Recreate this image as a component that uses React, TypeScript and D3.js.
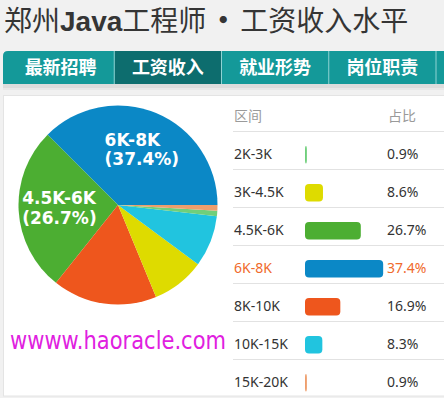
import React, { useEffect } from 'react';
import * as d3 from 'd3';

const categories = ['2K-3K', '3K-4.5K', '4.5K-6K', '6K-8K', '8K-10K', '10K-15K', '15K-20K'];
const shares = [0.9, 8.6, 26.7, 37.4, 16.9, 8.3, 0.9];
const colors = ['#6fcf7b', '#dedb00', '#4cae32', '#0b88c6', '#ee561d', '#21c4df', '#ee9e6c'];
const pieOrder = ['6K-8K', '4.5K-6K', '8K-10K', '3K-4.5K', '10K-15K', '2K-3K', '15K-20K'];
const highlight = '6K-8K';
const tabs = ['最新招聘', '工资收入', '就业形势', '岗位职责'];
const activeTab = '工资收入';
const tableHeaders = ['区间', '占比'];
const watermark = 'wwww.haoracle.com';

const W = 444;
const H = 398;
const CJK = '"Noto Sans CJK SC", "Noto Sans", sans-serif';
const LABEL_FONT = 'bold 17px "DejaVu Sans"';

function measure(text: string, font: string): number {
  try {
    const c = document.createElement('canvas');
    const ctx = c.getContext('2d');
    if (!ctx) return text.length * 9;
    ctx.font = font;
    return ctx.measureText(text).width;
  } catch (e) {
    return text.length * 9;
  }
}

export default function App() {
  useEffect(() => {
    document.body.style.margin = '0';
  }, []);

  // pie
  const cx = 118;
  const cy = 205;
  const r = 99.5;
  const pieData = pieOrder.map((c) => {
    const i = categories.indexOf(c);
    return { cat: c, value: shares[i], color: colors[i] };
  });
  const pie = d3
    .pie<{ cat: string; value: number; color: string }>()
    .sort(null)
    .value((d) => d.value)
    .startAngle(Math.PI / 2)
    .endAngle(Math.PI / 2 - 2 * Math.PI);
  const arcs = pie(pieData);
  const arc = d3.arc<d3.PieArcDatum<any>>().innerRadius(0).outerRadius(r);
  const labelArc = d3.arc<d3.PieArcDatum<any>>().innerRadius(r * 0.6).outerRadius(r * 0.6);

  // tabs
  const tabX = d3.scaleBand<string>().domain(tabs).range([7, 436]);
  const tabTop = 51;
  const tabBottom = 84;

  // table
  const rowY = d3.scaleBand<string>().domain(categories).range([131, 397]);
  const barW = d3.scaleLinear().domain([0, 100]).range([0, 209]);
  const barX = 305;
  const labelX = 234;
  const pctX = 387;

  return (
    <svg
      width={W}
      height={H}
      viewBox={`0 0 ${W} ${H}`}
      style={{ display: 'block', position: 'absolute', left: 0, top: 0 }}
    >
      <rect x={0} y={0} width={W} height={H} fill="#f1f1f1" />
      {/* title */}
      <text x={4} y={31} fontFamily={CJK} fontSize={28} fill="#353535">
        <tspan>郑州</tspan>
        <tspan fontFamily='"Liberation Sans", Arial, sans-serif' fontWeight="bold">
          Java
        </tspan>
        <tspan>工程师</tspan>
        <tspan dx={3} fontWeight="bold">•</tspan>
        <tspan dx={3} fontWeight="normal">工资收入水平</tspan>
      </text>

      {/* tab shadow */}
      <rect x={3} y={tabBottom} width={W} height={4} fill="#dcdcdc" />
      <rect x={3} y={tabBottom + 4} width={W} height={2} fill="#e8e8e8" />
      {/* tab bar */}
      <path
        d={`M3,${tabBottom} L3,${tabTop + 5} Q3,${tabTop} 8,${tabTop} L${W},${tabTop} L${W},${tabBottom} Z`}
        fill="#149999"
      />
      <rect
        x={tabX(activeTab)!}
        y={tabTop}
        width={tabX.bandwidth()}
        height={tabBottom - tabTop}
        fill="#0d6d6e"
      />
      {tabs.map((t) => (
        <line
          key={'sep' + t}
          x1={(tabX(t) as number) + tabX.bandwidth()}
          x2={(tabX(t) as number) + tabX.bandwidth()}
          y1={tabTop}
          y2={tabBottom}
          stroke="#8fd3d3"
          strokeWidth={1}
        />
      ))}
      {tabs.map((t) => (
        <text
          key={t}
          x={(tabX(t) as number) + tabX.bandwidth() / 2}
          y={74}
          textAnchor="middle"
          fontFamily={CJK}
          fontWeight="bold"
          fontSize={18}
          fill="#ffffff"
        >
          {t}
        </text>
      ))}

      {/* panel */}
      <rect x={3.5} y={95.5} width={W} height={300.5} fill="#ffffff" stroke="#e4e4e4" strokeWidth={1} />

      {/* pie */}
      <g transform={`translate(${cx},${cy})`}>
        {arcs.map((a) => (
          <path key={a.data.cat} d={arc(a as any) || ''} fill={a.data.color} />
        ))}
        {arcs
          .filter((a) => a.data.value > 20)
          .map((a) => {
            const [lx, ly] = labelArc.centroid(a as any);
            const l1 = a.data.cat;
            const l2 = `(${a.data.value}%)`;
            const bw = Math.max(measure(l1, LABEL_FONT), measure(l2, LABEL_FONT));
            return (
              <text
                key={'lbl' + a.data.cat}
                x={lx - bw / 2}
                y={ly}
                fontFamily='"DejaVu Sans", sans-serif'
                fontWeight="bold"
                fontSize={17}
                fill="#ffffff"
              >
                <tspan x={lx - bw / 2 + 1} dy={-4}>
                  {l1}
                </tspan>
                <tspan x={lx - bw / 2 + 1} dy={19.5}>
                  {l2}
                </tspan>
              </text>
            );
          })}
      </g>

      {/* watermark */}
      <text
        x={10}
        y={349}
        fontFamily='"DejaVu Sans", sans-serif'
        fontSize={25}
        fill="#e020e0"
        textLength={216}
        lengthAdjust="spacingAndGlyphs"
      >
        {watermark}
      </text>

      {/* table */}
      <text x={labelX} y={121} fontFamily={CJK} fontSize={14} fill="#9a9a9a">
        {tableHeaders[0]}
      </text>
      <text x={pctX + 1} y={121} fontFamily={CJK} fontSize={14} fill="#9a9a9a">
        {tableHeaders[1]}
      </text>
      {categories.map((c, i) => {
        const y0 = rowY(c) as number;
        const hl = c === highlight;
        const tc = hl ? '#f06a2c' : '#333333';
        return (
          <g key={'row' + c}>
            <line x1={233} x2={W} y1={y0 + 0.5} y2={y0 + 0.5} stroke="#e2e2e2" />
            <text x={labelX} y={y0 + 27.5} fontFamily='"Noto Sans", sans-serif' fontSize={14} fill={tc}>
              {c}
            </text>
            <rect x={barX} y={y0 + 15} width={barW(shares[i])} height={17.5} rx={4} ry={4} fill={colors[i]} />
            <text x={pctX} y={y0 + 27.5} fontFamily='"Noto Sans", sans-serif' fontSize={14} fill={tc}>
              {shares[i]}%
            </text>
          </g>
        );
      })}
    </svg>
  );
}
